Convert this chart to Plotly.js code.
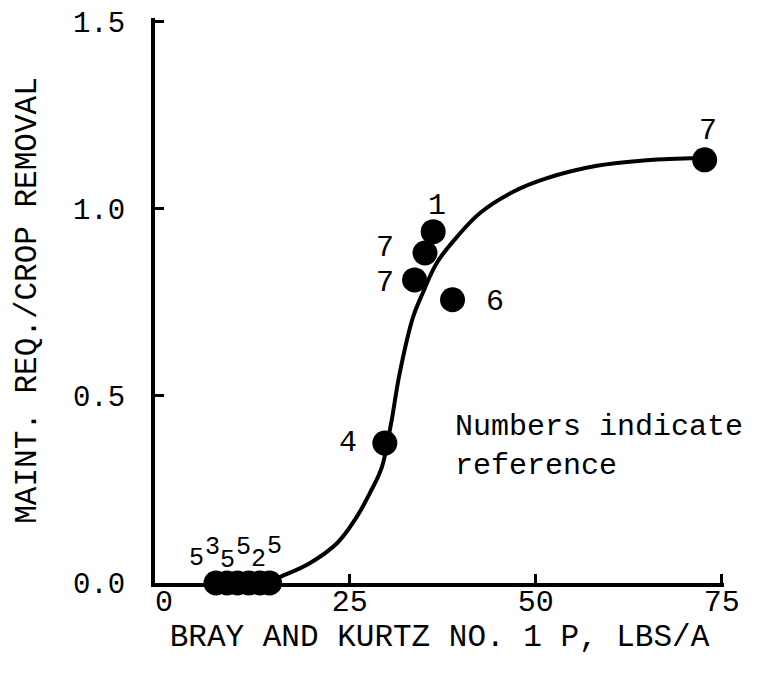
<!DOCTYPE html>
<html>
<head>
<meta charset="utf-8">
<script src="https://cdn.plot.ly/plotly-3.0.1.min.js"></script>
<style>html,body{margin:0;padding:0;background:#fff;}</style>
</head>
<body>
<div id="chart" style="width:763px;height:682px;"></div>
<script>
// Observed data points (Bray & Kurtz No.1 P, lbs/A vs maint. req./crop removal)
const pointX = [7.0, 8.5, 9.9, 11.4, 12.9, 14.2, 29.7, 33.7, 35.1, 36.2, 38.8, 72.7];
const pointY = [0, 0, 0, 0, 0, 0, 0.374, 0.810, 0.882, 0.939, 0.757, 1.131];
const pointRef = ['5', '3', '5', '5', '2', '5', '4', '7', '7', '1', '6', '7'];

// Fitted curve
const curveX = [14.5, 15.6, 19.6, 23.3, 25.9, 27.7, 29.3, 30.5, 31.7, 33.5, 34.8, 36.7, 39.4, 42.5, 46.9, 51.5, 58.2, 64.9, 72.0];
const curveY = [0.005, 0.016, 0.053, 0.107, 0.176, 0.241, 0.310, 0.422, 0.561, 0.711, 0.775, 0.856, 0.925, 0.989, 1.045, 1.082, 1.115, 1.130, 1.136];

// Axis ticks
const xTickVals = [0, 25, 50, 75];
const xTickText = ['0', '25', '50', '75'];
const xTickMarks = [25, 50, 75];
const yTickVals = [0, 0.5, 1.0, 1.5];
const yTickText = ['0.0', '0.5', '1.0', '1.5'];

const xTitle = 'BRAY AND KURTZ NO. 1 P, LBS/A';
const yTitle = 'MAINT. REQ./CROP REMOVAL';
const noteText = 'Numbers indicate<br>reference';

// label offsets in pixels (style, not data)
const labelShift = [[-19, 25], [-15, 36], [-10, 23], [-5, 36], [-1, 24], [5, 37],
                    [-37, 0], [-30, -3], [-40, 5], [4, 26], [42, -2], [3, 29]];
const labelSize = [25, 25, 25, 25, 25, 25, 30, 30, 30, 30, 30, 30];

const FONT = 'Liberation Mono, DejaVu Sans Mono, monospace';
const xRange = [-1.2, 75.3];
const yRange = [0, 1.51];

const traces = [
  {
    x: curveX, y: curveY, type: 'scatter', mode: 'lines',
    xaxis: 'x2', yaxis: 'y',
    line: {color: '#000', width: 4, shape: 'spline', smoothing: 1.1},
    hoverinfo: 'skip', cliponaxis: false
  },
  {
    x: pointX, y: pointY, type: 'scatter', mode: 'markers',
    marker: {color: '#000', size: 25},
    cliponaxis: false
  }
];

const annotations = pointX.map((x, i) => ({
  x: x, y: pointY[i], xref: 'x', yref: 'y', text: pointRef[i], showarrow: false,
  xshift: labelShift[i][0], yshift: labelShift[i][1],
  font: {family: FONT, size: labelSize[i], color: '#000'}
}));
annotations.push({
  x: 0.5245, y: 0.241, xref: 'paper', yref: 'paper', text: noteText,
  showarrow: false, xanchor: 'left', yanchor: 'middle', align: 'left',
  font: {family: FONT, size: 30, color: '#000'}
});

const layout = {
  width: 763, height: 682,
  margin: {l: 155, r: 39, t: 18, b: 99},
  paper_bgcolor: '#fff', plot_bgcolor: '#fff',
  showlegend: false,
  font: {family: FONT, size: 30, color: '#000'},
  xaxis: {
    range: xRange, showgrid: false, zeroline: false,
    showline: true, linecolor: '#000', linewidth: 4,
    tickmode: 'array', tickvals: xTickVals, ticktext: xTickText,
    ticks: '', ticklabelstandoff: -12,
    tickfont: {family: FONT, size: 30, color: '#000'},
    title: {text: xTitle, standoff: 6, font: {family: FONT, size: 31, color: '#000'}}
  },
  xaxis2: {
    range: xRange, overlaying: 'x', anchor: 'y', side: 'bottom',
    showgrid: false, zeroline: false, showline: false,
    tickmode: 'array', tickvals: xTickMarks, showticklabels: false,
    ticks: 'inside', ticklen: 9, tickwidth: 3, tickcolor: '#000'
  },
  yaxis: {
    range: yRange, showgrid: false, zeroline: false,
    showline: true, linecolor: '#000', linewidth: 4,
    tickmode: 'array', tickvals: yTickVals, ticktext: yTickText,
    ticks: 'inside', ticklen: 9, tickwidth: 3, tickcolor: '#000',
    ticklabelstandoff: 20,
    tickfont: {family: FONT, size: 29, color: '#000'},
    title: {text: yTitle, standoff: 28, font: {family: FONT, size: 31, color: '#000'}}
  },
  annotations: annotations
};

Plotly.newPlot('chart', traces, layout, {displayModeBar: false, staticPlot: true});
</script>
</body>
</html>
